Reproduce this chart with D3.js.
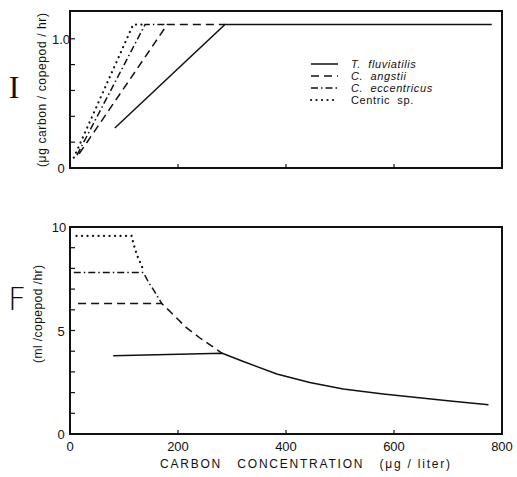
<!DOCTYPE html>
<html>
<head>
<meta charset="utf-8">
<script src="https://cdn.jsdelivr.net/npm/d3@7"></script>
<style>
  body { margin: 0; background: #fff; }
  text { font-family: "Liberation Sans", Arial, sans-serif; fill: #111; }
</style>
</head>
<body>
<div id="viz"></div>
<script>
// species in legend order
var species = ["T. fluviatilis", "C. angstii", "C. eccentricus", "Centric sp."];
var italicName = [true, true, true, false];

// ingestion rate I (ug carbon/copepod/hr) vs carbon concentration (ug/liter)
var ingestFluv = [[83, 0.31], [287, 1.11], [781, 1.11]];
var ingestAngs = [[17, 0.11], [180, 1.11], [287, 1.11]];
var ingestEcc  = [[13, 0.10], [139, 1.11], [180, 1.11]];
var ingestCent = [[7, 0.08], [117, 1.11], [139, 1.11]];

// filtering rate F (ml/copepod/hr)
var filtFluv = [[80, 3.78], [282, 3.9], [321, 3.5], [383, 2.9], [444, 2.49], [506, 2.17], [580, 1.93], [642, 1.76], [704, 1.6], [775, 1.41]];
var filtAngs = [[15, 6.3], [170, 6.3], [190, 5.8], [215, 5.15], [240, 4.65], [265, 4.2], [282, 3.9]];
var filtEcc  = [[7, 7.8], [136, 7.8], [145, 7.35], [155, 6.95], [170, 6.3]];
var filtCent = [[12, 9.57], [114, 9.57], [120, 8.96], [126, 8.52], [133, 8.1], [137, 7.85]];

var xTicks = [0, 200, 400, 600, 800];
var topYTicks = [0, 0.2, 0.4, 0.6, 0.8, 1.0];
var botYTicks = [0, 1, 2, 3, 4, 5, 6, 7, 8, 9, 10];

var dashes = [null, "8,5", "7,3,1.5,3", "0.1,5.4"];

var width = 517, height = 477;
var svg = d3.select("#viz").append("svg")
  .attr("width", width)
  .attr("height", height);

var x = d3.scaleLinear().domain([0, 800]).range([70, 502]);
var yTop = d3.scaleLinear().domain([0, 1.215]).range([168, 11]);
var yBot = d3.scaleLinear().domain([0, 10]).range([434, 227]);

var line = function(ys) {
  return d3.line()
    .x(function(d) { return x(d[0]); }).y(function(d) { return ys(d[1]); });
};

function styleStroke(sel, i) {
  sel.attr("fill", "none").attr("stroke", "#111")
    .attr("stroke-width", i == 3 ? 2.2 : 1.5)
    .attr("stroke-linecap", i == 3 ? "round" : "butt")
    .attr("stroke-dasharray", dashes[i]);
}

function drawFrame(ys, yTickVals) {
  var g = svg.append("g");
  g.append("rect")
    .attr("x", x(0)).attr("y", ys.range()[1])
    .attr("width", x(800) - x(0)).attr("height", ys.range()[0] - ys.range()[1])
    .attr("fill", "none").attr("stroke", "#111").attr("stroke-width", 2);
  // inward ticks on x
  g.selectAll(".xt").data([200, 400, 600]).enter().append("line")
    .attr("x1", function(d) { return x(d); }).attr("x2", function(d) { return x(d); })
    .attr("y1", ys.range()[0]).attr("y2", ys.range()[0] - 4)
    .attr("stroke", "#111").attr("stroke-width", 1.2);
  // inward ticks on y
  g.selectAll(".yt").data(yTickVals).enter().append("line")
    .attr("x1", x(0)).attr("x2", x(0) + 5)
    .attr("y1", function(d) { return ys(d); }).attr("y2", function(d) { return ys(d); })
    .attr("stroke", "#111").attr("stroke-width", 1.2);
  return g;
}

drawFrame(yTop, topYTicks);
drawFrame(yBot, botYTicks);

// curves
var ingest = [ingestFluv, ingestAngs, ingestEcc, ingestCent];
var filt = [filtFluv, filtAngs, filtEcc, filtCent];

ingest.forEach(function(s, i) {
  svg.append("path").datum(s)
    .attr("d", line(yTop))
    .call(styleStroke, i);
});
filt.forEach(function(s, i) {
  svg.append("path").datum(s)
    .attr("d", line(yBot))
    .call(styleStroke, i);
});

// tick labels
svg.append("text").attr("x", 61).attr("y", yTop(1.0) + 5).attr("text-anchor", "middle")
  .attr("font-size", 13).text("1.0");
svg.append("text").attr("x", 61).attr("y", yTop(0) + 5).attr("text-anchor", "middle")
  .attr("font-size", 13).text("0");
[0, 5, 10].forEach(function(v) {
  svg.append("text").attr("x", v == 10 ? 59 : 61).attr("y", yBot(v) + 5).attr("text-anchor", "middle")
    .attr("font-size", 13).text(v);
});
svg.selectAll(".xl").data(xTicks).enter().append("text")
  .attr("x", function(d) { return x(d); }).attr("y", 451)
  .attr("text-anchor", "middle").attr("font-size", 13)
  .text(function(d) { return d; });

// axis titles
svg.append("text").attr("x", 160).attr("y", 468)
  .attr("font-size", 12).attr("textLength", 290).attr("lengthAdjust", "spacing")
  .attr("xml:space", "preserve")
  .text("CARBON   CONCENTRATION   (\u03bcg / liter)");

svg.append("text")
  .attr("transform", "translate(46,90) rotate(-90)")
  .attr("text-anchor", "middle").attr("font-size", 12)
  .attr("textLength", 154).attr("lengthAdjust", "spacing")
  .text("(\u03bcg  carbon / copepod / hr)");
svg.append("text")
  .attr("transform", "translate(42,314) rotate(-90)")
  .attr("text-anchor", "middle").attr("font-size", 12)
  .attr("textLength", 98).attr("lengthAdjust", "spacing")
  .text("(ml /copepod /hr)");

svg.append("text").attr("x", 14).attr("y", 98).attr("text-anchor", "middle")
  .attr("font-size", 32).style("font-family", "'Liberation Serif', serif")
  .text("I");
svg.append("text").attr("x", 17).attr("y", 310).attr("text-anchor", "middle")
  .attr("font-size", 32).style("font-family", "'DejaVu Sans', sans-serif").attr("font-weight", 200)
  .text("F");

// legend
var legend = svg.append("g").attr("class", "legend");
var rowY = [64, 76, 88, 100];
species.forEach(function(name, i) {
  legend.append("line")
    .attr("x1", 311).attr("x2", 338).attr("y1", rowY[i]).attr("y2", rowY[i])
    .call(styleStroke, i);
  legend.append("text")
    .attr("x", 351).attr("y", rowY[i] + 4)
    .attr("font-size", 11).attr("letter-spacing", 0.6)
    .attr("font-style", italicName[i] ? "italic" : "normal")
    .attr("xml:space", "preserve")
    .text(name.replace(" ", "  "));
});
</script>
</body>
</html>
